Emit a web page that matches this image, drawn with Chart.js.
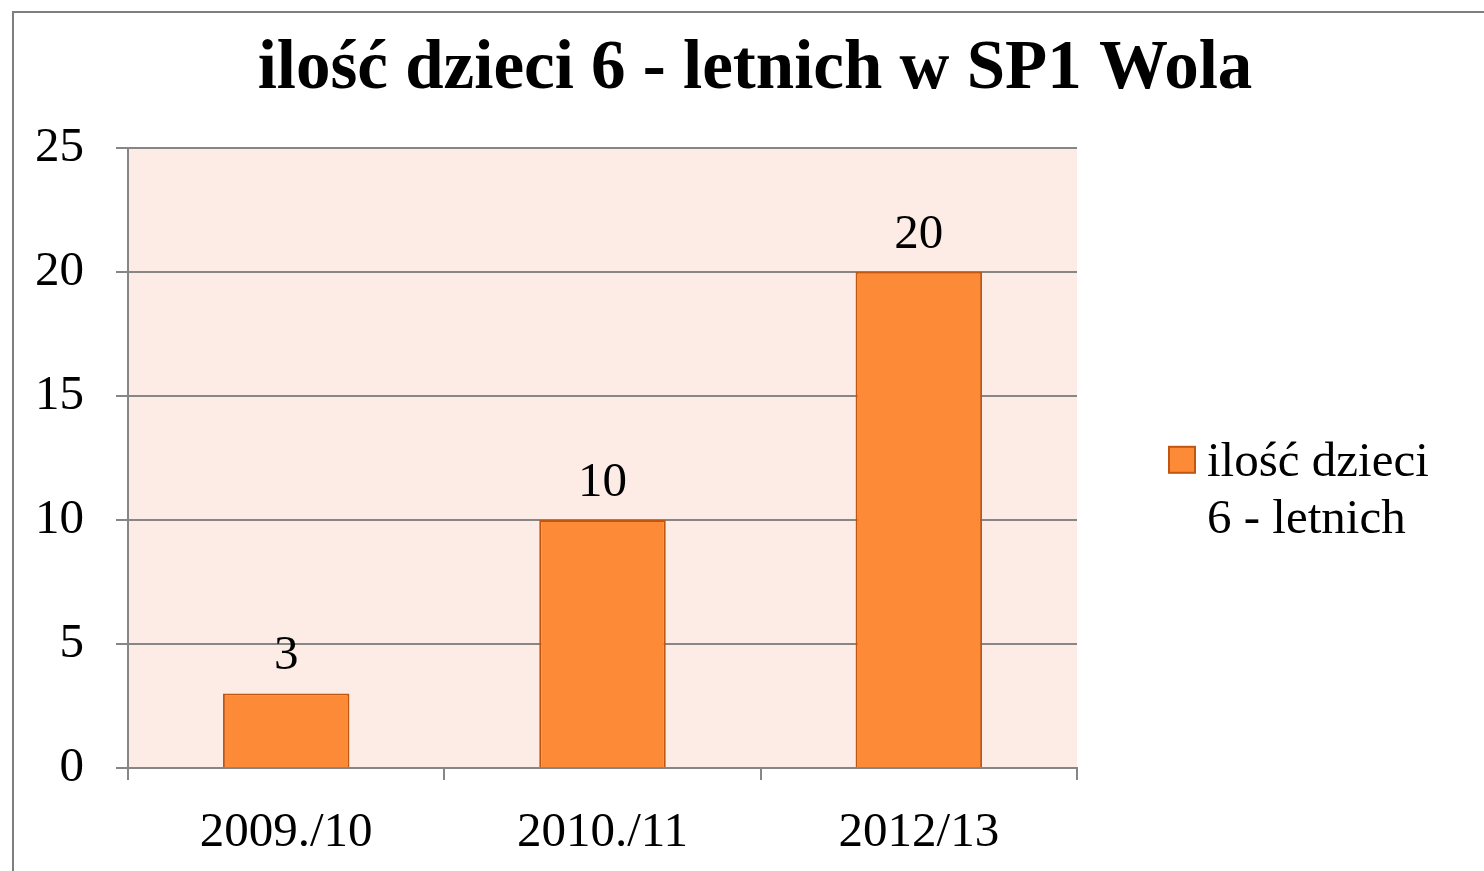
<!DOCTYPE html>
<html>
<head>
<meta charset="utf-8">
<script src="https://cdn.jsdelivr.net/npm/chart.js@4"></script>
<style>
  html, body { margin: 0; padding: 0; background: #fff; overflow: hidden; }
  #box {
    position: absolute; left: 12px; top: 11px;
    border-left: 2px solid #7f7f7f; border-top: 2px solid #7f7f7f;
    width: 1482px; height: 858px;
  }
  canvas { display: block; }
</style>
</head>
<body>
<div id="box"><canvas id="chart" width="1482" height="858"></canvas></div>
<script>
const titleText = 'ilość dzieci 6 - letnich w SP1 Wola';
const years = ['2009./10', '2010./11', '2012/13'];
const kids = [3, 10, 20];
const legendLines = ['ilość dzieci', '6 - letnich'];

const serif = '"Liberation Serif", "Times New Roman", serif';
const gridGray = '#868686';
const textSize = 49;

// pink plot area behind the bars
const plotBg = {
  id: 'plotBg',
  beforeDraw(chart) {
    const a = chart.chartArea;
    const ctx = chart.ctx;
    ctx.save();
    ctx.fillStyle = '#FDECE6';
    ctx.fillRect(a.left, a.top, a.right - a.left, a.bottom - a.top);
    ctx.restore();
  }
};

// value above each bar
const valueLabels = {
  id: 'valueLabels',
  afterDatasetsDraw(chart) {
    const ctx = chart.ctx;
    const meta = chart.getDatasetMeta(0);
    ctx.save();
    ctx.font = textSize + 'px ' + serif;
    ctx.fillStyle = '#000';
    ctx.textAlign = 'center';
    ctx.textBaseline = 'middle';
    meta.data.forEach((bar, i) => {
      ctx.fillText(String(kids[i]), bar.x, bar.y - 37);
    });
    ctx.restore();
  }
};

// two-line legend on the right
const sideLegend = {
  id: 'sideLegend',
  afterDraw(chart) {
    const ctx = chart.ctx;
    const a = chart.chartArea;
    const ds = chart.data.datasets[0];
    const x = a.right + 92;
    const y = a.top + 299;
    ctx.save();
    ctx.fillStyle = ds.backgroundColor;
    ctx.strokeStyle = ds.borderColor;
    ctx.lineWidth = 2;
    ctx.fillRect(x, y, 26, 26);
    ctx.strokeRect(x, y, 26, 26);
    ctx.font = textSize + 'px ' + serif;
    ctx.fillStyle = '#000';
    ctx.textAlign = 'left';
    ctx.textBaseline = 'alphabetic';
    legendLines.forEach((line, i) => {
      ctx.fillText(line, x + 38, y + 29 + i * 57);
    });
    ctx.restore();
  }
};

new Chart(document.getElementById('chart'), {
  type: 'bar',
  data: {
    labels: years,
    datasets: [{
      label: legendLines.join(' '),
      data: kids,
      backgroundColor: '#FD8A37',
      borderColor: '#C0560F',
      borderWidth: 2,
      barPercentage: 0.4,
      categoryPercentage: 1.0
    }]
  },
  options: {
    responsive: false,
    animation: false,
    layout: { padding: 0 },
    plugins: {
      legend: { display: false },
      tooltip: { enabled: false },
      title: {
        display: true,
        text: titleText,
        color: '#000',
        font: { family: serif, size: 69, weight: 'bold', lineHeight: 1.2 },
        padding: { top: 16, bottom: 36 }
      }
    },
    scales: {
      x: {
        afterFit(scale) { scale.height = 103; },
        grid: {
          offset: true,
          drawOnChartArea: false,
          drawTicks: true,
          tickLength: 12,
          color: gridGray,
          lineWidth: 2
        },
        border: { display: true, color: gridGray, width: 2 },
        ticks: {
          color: '#000',
          padding: 24,
          font: { family: serif, size: textSize }
        }
      },
      y: {
        min: 0,
        max: 25,
        afterFit(scale) { scale.width = 114; },
        grid: {
          color: gridGray,
          lineWidth: 2,
          drawTicks: true,
          tickLength: 12
        },
        border: { display: true, color: gridGray, width: 2 },
        ticks: {
          stepSize: 5,
          color: '#000',
          padding: 32,
          font: { family: serif, size: textSize }
        }
      },
      // empty right-hand axis that keeps room for the legend
      side: {
        type: 'linear',
        position: 'right',
        afterFit(scale) { scale.width = 419; },
        grid: { display: false },
        border: { display: false },
        ticks: { display: false }
      }
    }
  },
  plugins: [plotBg, valueLabels, sideLegend]
});
</script>
</body>
</html>
